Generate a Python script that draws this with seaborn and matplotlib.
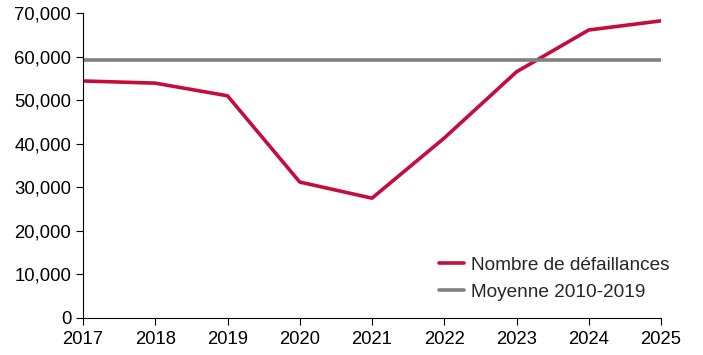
import matplotlib
matplotlib.use("Agg")
import matplotlib.pyplot as plt
import matplotlib.ticker as mticker
import seaborn as sns
import pandas as pd

# data
years = [2017, 2018, 2019, 2020, 2021, 2022, 2023, 2024, 2025]
failures = [54400, 53900, 51000, 31200, 27500, 41300, 56500, 66100, 68200]
avg_2010_2019 = 59200

sns.set_style("ticks")
plt.rcParams['font.family'] = ['Liberation Sans', 'DejaVu Sans']

df = pd.DataFrame({"year": years, "n": failures})

fig = plt.figure(figsize=(7.03, 3.55), dpi=100)
ax = fig.add_axes([83 / 703, 37 / 355, 578 / 703, 305 / 355])

sns.lineplot(data=df, x="year", y="n", ax=ax, color="#c60c3c", lw=2.6,
             label="Nombre de défaillances")
ax.axhline(avg_2010_2019, color="#808080", lw=2.6, label="Moyenne 2010-2019")

ax.set_xlim(2017, 2025)
ax.set_ylim(0, 70000)
ax.set_xticks(years)
ax.yaxis.set_major_locator(mticker.MultipleLocator(10000))
ax.yaxis.set_major_formatter(mticker.FuncFormatter(lambda v, p: f"{int(v):,}"))
ax.set_xlabel("")
ax.set_ylabel("")
ax.tick_params(labelsize=13.3, length=5, width=0.8, color="black", labelcolor="black")
ax.tick_params(axis="x", pad=4)
for s in ["top", "right"]:
    ax.spines[s].set_visible(False)
for s in ["left", "bottom"]:
    ax.spines[s].set_color("black")
    ax.spines[s].set_linewidth(0.8)

ax.legend(loc="lower right", frameon=False, fontsize=13.7, handlelength=1.3,
          handletextpad=0.4, labelspacing=0.5, bbox_to_anchor=(1.045, 0.0))

fig.savefig("out.png", dpi=100)
